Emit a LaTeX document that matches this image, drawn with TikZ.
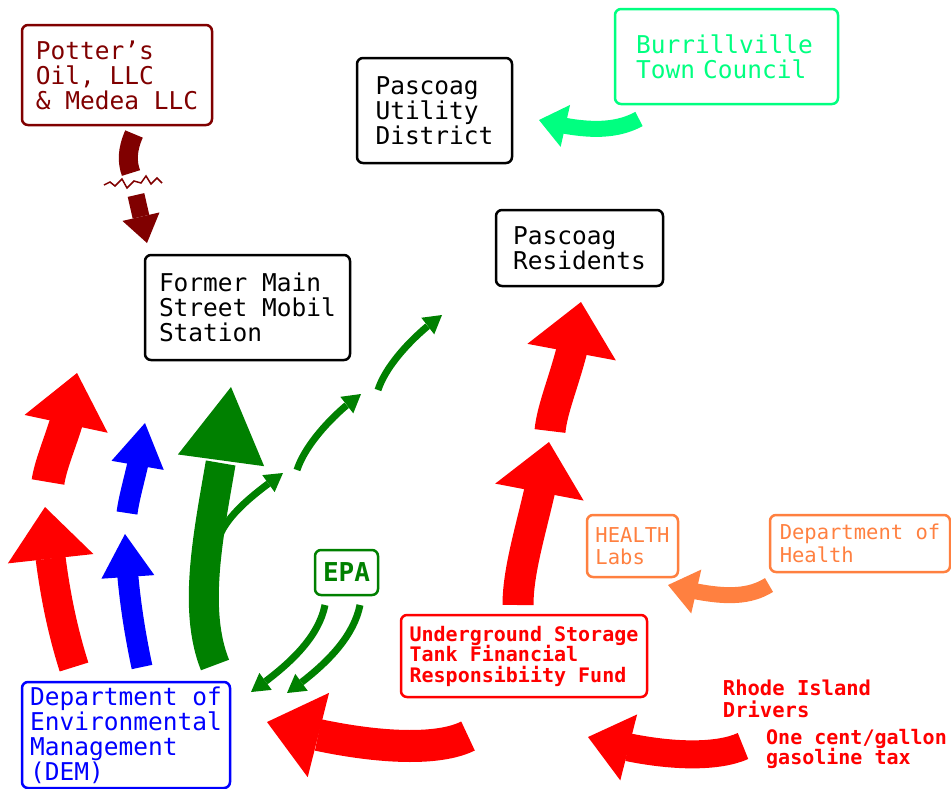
\documentclass[tikz,border=0pt]{standalone}
\usepackage{fontspec}
\setmonofont{DejaVu Sans Mono}
\usetikzlibrary{arrows.meta,bending,calc}
\definecolor{potred}{HTML}{800000}
\definecolor{towngreen}{HTML}{00FF80}
\definecolor{epagreen}{HTML}{008000}
\definecolor{healthor}{HTML}{FF8040}
\tikzset{
  box/.style      = {rectangle, rounded corners=6pt, line width=2.5pt, align=left,
                     inner sep=0pt, font=\ttfamily\fontsize{24.5}{25}\selectfont},
  smallbox/.style = {box, font=\ttfamily\fontsize{20.5}{22.5}\selectfont},
  txt/.style      = {align=left, inner sep=0pt, text=red,
                     font=\ttfamily\bfseries\fontsize{20}{20.5}\selectfont},
  fat/.style n args = {3}{line width=#1, -{Triangle[length=#2, width=#3, line width=0pt]}},
  leak/.style     = {line width=7pt, epagreen, -{Triangle[length=18pt, width=21pt, line width=0pt]}},
}
\begin{document}
\begin{tikzpicture}[x=1pt, y=-1pt]
  \useasboundingbox (0,0) rectangle (951,788);

  % parties
  \node[box, draw=potred, text=potred, minimum width=190pt, minimum height=100pt] (potter) at (117,75)
       {Potter’s\\Oil, LLC\\\& Medea LLC};
  \node[box, draw=black, minimum width=155pt, minimum height=105pt] (utility) at (434.5,110.5)
       {Pascoag\\Utility\\District};
  \node[box, draw=towngreen, text=towngreen, text width=181pt, inner xsep=21pt,
        minimum height=95pt] (council) at (726.5,56.5) {Burrillville\\Town Council};
  \node[box, draw=black, minimum width=167pt, minimum height=76pt] (residents) at (579.5,248)
       {Pascoag\\Residents};
  \node[box, draw=black, minimum width=205pt, minimum height=105pt] (mobil) at (247.5,307.5)
       {Former Main\\Street Mobil\\Station};
  \node[box, draw=epagreen, text=epagreen, minimum width=63pt, minimum height=45pt,
        font=\ttfamily\bfseries\fontsize{26}{28}\selectfont] (epa) at (346.5,572.5) {EPA};
  \node[box, draw=blue, text=blue, minimum width=208pt, minimum height=106pt] (dem) at (126,735)
       {Department of\\Environmental\\Management\\(DEM)};
  \node[box, draw=red, text=red, minimum width=246pt, minimum height=82pt,
        font=\ttfamily\bfseries\fontsize{20}{20.5}\selectfont] (fund) at (524,656)
       {Underground Storage\\Tank Financial\\Responsibiity Fund};
  \node[smallbox, draw=healthor, text=healthor, minimum width=91pt, minimum height=62pt] (labs) at (632.5,546)
       {HEALTH\\Labs};
  \node[smallbox, draw=healthor, text=healthor, minimum width=180pt, minimum height=57pt] (doh) at (860,543.5)
       {Department of\\Health};
  \node[txt, font=\ttfamily\bfseries\fontsize{20.5}{22}\selectfont] (drivers) at (797,699) {Rhode Island\\Drivers};
  \node[txt] (gastax) at (856.5,749) {One cent/gallon\\gasoline tax};

  % arrow ends
  \coordinate (potA) at (134,134);  \coordinate (potB) at (131,173);
  \coordinate (potC) at (136,195);  \coordinate (potD) at (147,243);
  \coordinate (brk)  at (104,185);
  \coordinate (twnA) at (639,119);  \coordinate (twnB) at (539,120);
  \coordinate (resA) at (518,605);  \coordinate (resB) at (549,442);
  \coordinate (resC) at (550,431);  \coordinate (resD) at (581,302);
  \coordinate (demR1) at (74,667);  \coordinate (demR2) at (45,507);
  \coordinate (demR3) at (48,482);  \coordinate (demR4) at (77,373);
  \coordinate (demB1) at (142,667); \coordinate (demB2) at (125,534);
  \coordinate (demB3) at (127,513); \coordinate (demB4) at (145,423);
  \coordinate (demG1) at (215,665); \coordinate (demG2) at (231,387);
  \coordinate (lkA) at (218,540);   \coordinate (lkB) at (283,473);
  \coordinate (lkC) at (297,470);   \coordinate (lkD) at (361,394);
  \coordinate (lkE) at (378,390);   \coordinate (lkF) at (442,315);
  \coordinate (epaA) at (325,605);  \coordinate (epaB) at (251,692);
  \coordinate (epaC) at (360,605);  \coordinate (epaD) at (287,693);
  \coordinate (fundA) at (468,736); \coordinate (fundB) at (267,722);
  \coordinate (taxA) at (743,746);  \coordinate (taxB) at (588,737);
  \coordinate (dohA) at (769,585);  \coordinate (dohB) at (668,585);

  % Potter's -> station, broken
  \draw[potred, line width=19pt] (potA) .. controls (127,150) and (127,162) .. (potB);
  \draw[potred, line width=1.5pt] (brk) -- ++(6,-3) -- ++(5,4) -- ++(7,-7) -- ++(5,9) -- ++(7,-7)
        -- ++(7,2) -- ++(5,-7) -- ++(5,8) -- ++(6,-6) -- ++(5,5);
  \draw[potred, fat={17pt}{27pt}{38pt}] (potC) -- (potD);

  \draw[towngreen, fat={16pt}{27pt}{43pt}] (twnA) .. controls (615,132) and (585,132) .. (twnB);

  % fund -> residents
  \draw[red, fat={31pt}{51pt}{90pt}] (resA) .. controls (518,560) and (540,505) .. (resB);
  \draw[red, fat={31pt}{51pt}{90pt}] (resC) .. controls (553,400) and (574,362) .. (resD);

  % DEM -> station
  \draw[red, fat={30pt}{52pt}{86pt}] (demR1) .. controls (56,610) and (50,560) .. (demR2);
  \draw[red, fat={33pt}{52pt}{85pt}] (demR3) .. controls (52,455) and (72,420) .. (demR4);
  \draw[blue, fat={21pt}{43pt}{53pt}] (demB1) .. controls (132,620) and (127,580) .. (demB2);
  \draw[blue, fat={21pt}{43pt}{53pt}] (demB3) .. controls (130,490) and (141,460) .. (demB4);
  \draw[epagreen, fat={30pt}{74pt}{87pt}] (demG1) .. controls (185,590) and (224,480) .. (demG2);

  \foreach \a/\b in {lkA/lkB, lkC/lkD, lkE/lkF} {
    \draw[leak] (\a) .. controls ($(\a)+(8,-25)$) and ($(\b)+(-28,20)$) .. (\b);
  }
  \foreach \a/\b in {epaA/epaB, epaC/epaD} {
    \draw[leak] (\a) .. controls ($(\a)+(-7,35)$) and ($(\b)+(34,-24)$) .. (\b);
  }

  % money flow
  \draw[red, fat={32pt}{53pt}{87pt}] (fundA) .. controls (430,755) and (345,745) .. (fundB);
  \draw[red, fat={28pt}{42pt}{68pt}] (taxA) .. controls (712,760) and (650,756) .. (taxB);
  \draw[healthor, fat={16pt}{29pt}{45pt}] (dohA) .. controls (745,600) and (715,597) .. (dohB);

\end{tikzpicture}
\end{document}
